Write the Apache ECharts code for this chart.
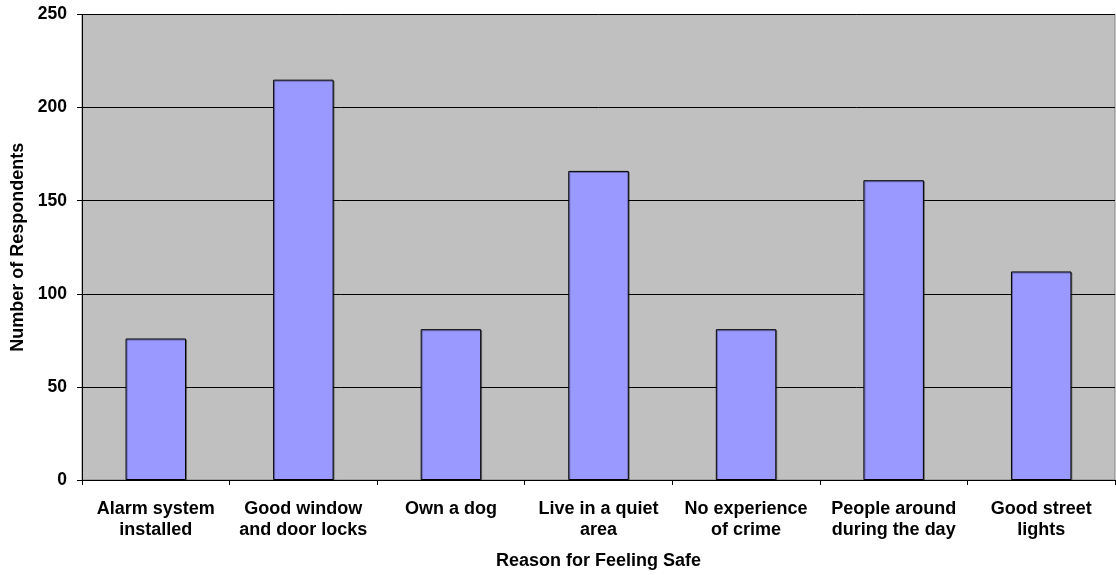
<!DOCTYPE html>
<html>
<head>
<meta charset="utf-8">
<script src="https://cdn.jsdelivr.net/npm/echarts@6/dist/echarts.min.js"></script>
<style>html,body{margin:0;padding:0;background:#fff;}#c{width:1116px;height:575px;}</style>
</head>
<body>
<div id="c"></div>
<script>
var categories = ['Alarm system\ninstalled', 'Good window\nand door locks', 'Own a dog', 'Live in a quiet\narea', 'No experience\nof crime', 'People around\nduring the day', 'Good street\nlights'];
var respondents = [76, 215, 81, 166, 81, 161, 112];
var yTicks = [0, 50, 100, 150, 200, 250];

var chart = echarts.init(document.getElementById('c'), null, {renderer: 'canvas'});
var font = 'Arial, "Liberation Sans", sans-serif';
chart.setOption({
  animation: false,
  grid: {left: 82, right: 1, top: 14.5, bottom: 92, show: true, backgroundColor: '#C0C0C0', borderColor: '#808080', borderWidth: 1},
  xAxis: {
    type: 'category',
    data: categories,
    name: 'Reason for Feeling Safe',
    nameLocation: 'middle',
    nameGap: 72,
    nameTextStyle: {fontFamily: font, fontWeight: 'bold', fontSize: 18, color: '#000'},
    axisLine: {lineStyle: {color: '#000', width: 1}},
    axisTick: {show: true, length: 5, lineStyle: {color: '#000'}},
    axisLabel: {interval: 0, fontFamily: font, fontWeight: 'bold', fontSize: 18, color: '#000', lineHeight: 21, margin: 19}
  },
  yAxis: {
    type: 'value',
    min: yTicks[0],
    max: yTicks[yTicks.length - 1],
    interval: 50,
    name: 'Number of Respondents',
    nameLocation: 'middle',
    nameGap: 52,
    nameTextStyle: {fontFamily: font, fontWeight: 'bold', fontSize: 18, color: '#000'},
    axisLine: {show: true, lineStyle: {color: '#000', width: 1}},
    axisTick: {show: true, length: 5, lineStyle: {color: '#000'}},
    axisLabel: {fontFamily: font, fontWeight: 'bold', fontSize: 17.5, color: '#000', margin: 15},
    splitLine: {show: true, lineStyle: {color: '#000', width: 1}}
  },
  series: [{
    type: 'bar',
    data: respondents,
    barCategoryGap: '59%',
    itemStyle: {color: '#9999FF', borderColor: '#000', borderWidth: 1, shadowColor: 'rgba(0,0,0,0.35)', shadowBlur: 0, shadowOffsetX: 1, shadowOffsetY: 1}
  }]
});
</script>
</body>
</html>
